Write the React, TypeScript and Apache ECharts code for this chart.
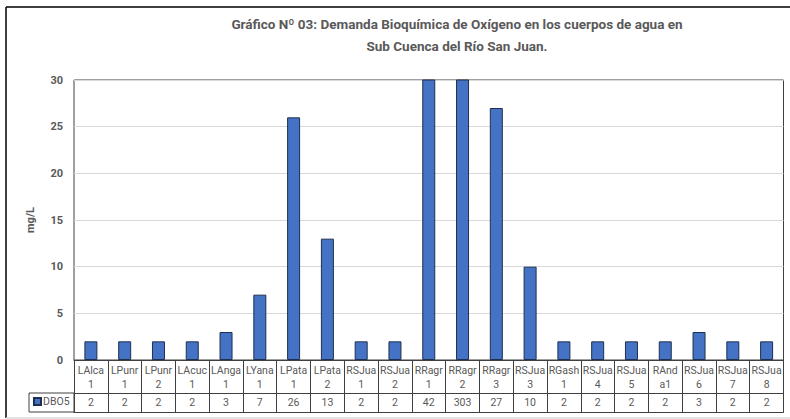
import React, { useEffect, useRef } from "react";
import * as echarts from "echarts";

const titleLines = [
  "Gráfico Nº 03: Demanda Bioquímica de Oxígeno en los cuerpos de agua en",
  "Sub Cuenca del Río San Juan.",
];
const categories = [
  "LAlca1", "LPunr1", "LPunr2", "LAcuc1", "LAnga1", "LYana1", "LPata1", "LPata2",
  "RSJua1", "RSJua2", "RRagr1", "RRagr2", "RRagr3", "RSJua3", "RGash1", "RSJua4",
  "RSJua5", "RAnda1", "RSJua6", "RSJua7", "RSJua8",
];
const dbo5 = [2, 2, 2, 2, 3, 7, 26, 13, 2, 2, 42, 303, 27, 10, 2, 2, 2, 2, 3, 2, 2];
const seriesName = "DBO5";
const yAxisName = "mg/L";
const yMin = 0;
const yMax = 30;
const yStep = 5;

const FONT = "Roboto, 'Liberation Sans', sans-serif";
const GRAY = "#595959";
const LINE = "#404040";

const wrapLabel = (name: string) => {
  const cut = name.length > 5 && name.startsWith("RAnd") ? 4 : 5;
  return name.slice(0, cut) + "\n" + name.slice(cut);
};

export default function App() {
  const ref = useRef<HTMLDivElement>(null);
  useEffect(() => {
    if (!ref.current) return;
    const chart = echarts.init(ref.current, null, { renderer: "svg" });
    const gridLeft = 74;
    const gridRight = 6.5;
    const gridTop = 80;
    const gridBottom = 59;
    const axisY = 419 - gridBottom;
    const row1 = 33;
    const row2 = 19;
    chart.setOption({
      animation: false,
      backgroundColor: "#ffffff",
      textStyle: { fontFamily: FONT },
      grid: {
        left: gridLeft,
        right: gridRight,
        top: gridTop,
        bottom: gridBottom,
        show: true,
        borderColor: LINE,
        borderWidth: 1,
      },
      legend: {
        show: true,
        left: 33,
        top: axisY + row1 + 3,
        padding: 0,
        itemWidth: 7,
        itemHeight: 7,
        itemGap: 2,
        icon: "rect",
        textStyle: { fontSize: 10.5, color: GRAY, fontFamily: FONT, padding: [0, 0, 0, -3] },
        data: [seriesName],
      },
      graphic: [
        {
          type: "text",
          x: 457,
          y: 13,
          style: {
            text: titleLines.join("\n"),
            font: `bold 13.5px ${FONT}`,
            fill: GRAY,
            align: "center",
            verticalAlign: "top",
            lineHeight: 22,
          },
        },
        {
          type: "rect",
          shape: { x: 29, y: axisY + row1, width: gridLeft - 29, height: row2 },
          style: { fill: "none", stroke: LINE, lineWidth: 1 },
          silent: true,
        },
        {
          type: "line",
          shape: { x1: 6, y1: 7, x2: 790, y2: 7 },
          style: { stroke: "#000000", lineWidth: 1.5 },
        },
        {
          type: "line",
          shape: { x1: 6, y1: 7, x2: 6, y2: 418 },
          style: { stroke: "#000000", lineWidth: 1.5 },
        },
        {
          type: "line",
          shape: { x1: 6, y1: 418, x2: 790, y2: 418 },
          style: { stroke: "#D9D9D9", lineWidth: 1.5 },
        },
      ],
      xAxis: [
        {
          type: "category",
          data: categories,
          boundaryGap: true,
          position: "bottom",
          axisLine: { show: true, lineStyle: { color: LINE, width: 1 } },
          axisTick: { show: true, interval: 0, length: row1, lineStyle: { color: LINE } },
          axisLabel: {
            interval: 0,
            margin: 3,
            fontSize: 10.5,
            lineHeight: 14,
            color: GRAY,
            fontFamily: FONT,
            formatter: (v: string) => wrapLabel(v),
          },
        },
        {
          type: "category",
          data: categories,
          boundaryGap: true,
          position: "bottom",
          offset: row1,
          axisLine: { show: true, lineStyle: { color: LINE, width: 1 } },
          axisTick: { show: true, interval: 0, length: row2, lineStyle: { color: LINE } },
          axisLabel: {
            interval: 0,
            margin: 4,
            fontSize: 10.5,
            color: GRAY,
            fontFamily: FONT,
            formatter: (_v: string, i: number) => String(dbo5[i]),
          },
        },
        {
          type: "category",
          data: categories,
          boundaryGap: true,
          position: "bottom",
          offset: row1 + row2,
          axisLine: { show: true, lineStyle: { color: LINE, width: 1 } },
          axisTick: { show: false },
          axisLabel: { show: false },
        },
      ],
      yAxis: {
        type: "value",
        min: yMin,
        max: yMax,
        interval: yStep,
        name: yAxisName,
        nameLocation: "middle",
        nameRotate: 90,
        nameGap: 38,
        nameTextStyle: { fontSize: 11, fontWeight: "bold", color: GRAY, fontFamily: FONT },
        axisLine: { show: false },
        axisTick: { show: false },
        axisLabel: { margin: 11, fontSize: 11, fontWeight: "bold", color: GRAY, fontFamily: FONT },
        splitLine: { lineStyle: { color: "#D9D9D9", width: 1 } },
      },
      series: [
        {
          name: seriesName,
          type: "bar",
          data: dbo5,
          xAxisIndex: 0,
          barWidth: 13,
          clip: true,
          itemStyle: { color: "#4472C4", borderColor: "#1F2F4F", borderWidth: 1 },
        },
      ],
    });
    return () => chart.dispose();
  }, []);
  return (
    <div
      ref={ref}
      style={{ position: "fixed", left: 0, top: 0, width: 790, height: 419 }}
    />
  );
}
